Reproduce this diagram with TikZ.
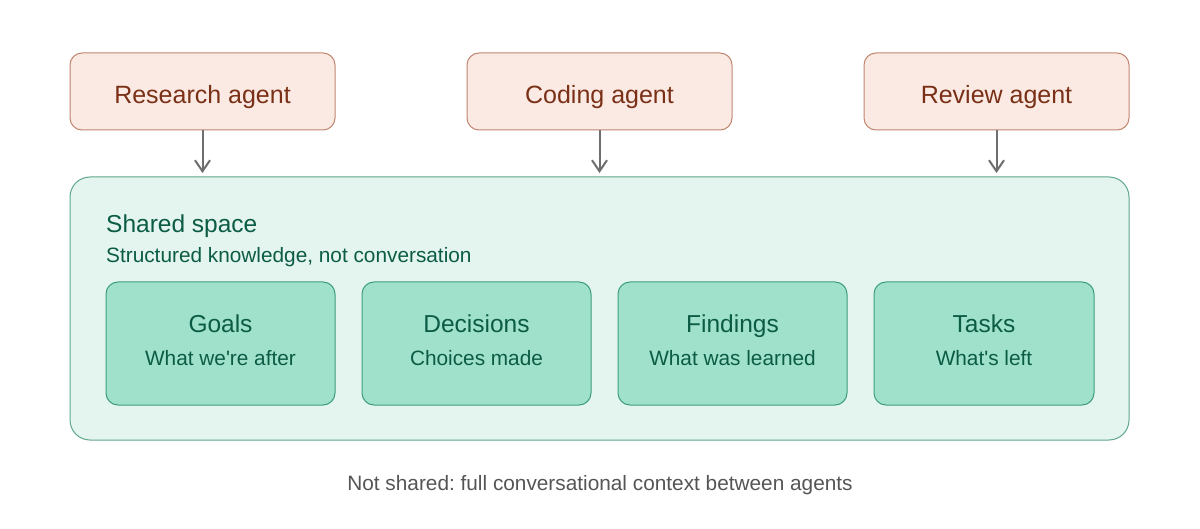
\documentclass[tikz,border=0pt]{standalone}
\usepackage{fontspec}
\setmainfont{Liberation Sans}
\usetikzlibrary{arrows.meta}
\definecolor{agfill}{HTML}{FBEAE3}
\definecolor{agdraw}{HTML}{C08670}
\definecolor{agtext}{HTML}{7A3016}
\definecolor{shfill}{HTML}{E3F5EE}
\definecolor{shdraw}{HTML}{5FA88A}
\definecolor{infill}{HTML}{9FE1CB}
\definecolor{indraw}{HTML}{3E9E7C}
\definecolor{grtext}{HTML}{0C5C45}
\definecolor{arr}{HTML}{6E6E6E}
\definecolor{note}{HTML}{555555}
\tikzset{
  agentbox/.style={draw=agdraw, fill=agfill, rounded corners=12pt, line width=1pt, minimum width=265pt, minimum height=77pt, inner sep=0pt},
  agtxt/.style={text=agtext, font=\fontsize{25}{30}\selectfont, inner sep=0pt},
  sharedbox/.style={draw=shdraw, fill=shfill, rounded corners=20pt, line width=1pt},
  itembox/.style={draw=indraw, fill=infill, rounded corners=12pt, line width=1pt, minimum height=123pt, inner sep=0pt},
  ttl/.style={text=grtext, font=\fontsize{24.5}{29}\selectfont, inner sep=0pt},
  sub/.style={text=grtext, font=\fontsize{20.8}{25}\selectfont, inner sep=0pt},
  flow/.style={draw=arr, line width=2pt, -{Straight Barb[length=11pt,width=15pt,line width=2pt]}},
}
\begin{document}
\frenchspacing
\begin{tikzpicture}[x=1pt,y=-1pt]
\useasboundingbox (0,0) rectangle (1200,529);
\fill[white] (0,0) rectangle (1200,529);
\node[agentbox] (ra) at (202.5,91.5) {};
\node[agentbox] (ca) at (599.5,91.5) {};
\node[agentbox] (va) at (996.5,91.5) {};
\node[agtxt, anchor=base] (rat) at (202.5,104) {Research agent};
\node[agtxt, anchor=base] (cat) at (599.5,104) {Coding agent};
\node[agtxt, anchor=base] (vat) at (996.5,104) {Review agent};
\node[sharedbox, minimum width=1059pt, minimum height=263pt, inner sep=0pt] (sh) at (599.5,308.5) {};
\coordinate (ta) at (202.5,173);
\coordinate (tb) at (599.5,173);
\coordinate (tc) at (996.5,173);
\draw[flow] (ra.south) -- (ta);
\draw[flow] (ca.south) -- (tb);
\draw[flow] (va.south) -- (tc);
\node[ttl, anchor=base west] (st) at (106,233) {Shared space};
\node[sub, anchor=base west] (ss) at (106,263) {Structured knowledge, not conversation};
\node[itembox, minimum width=229pt] (g) at (220.5,343.5) {};
\node[itembox, minimum width=229pt] (d) at (476.5,343.5) {};
\node[itembox, minimum width=229pt] (f) at (732.5,343.5) {};
\node[itembox, minimum width=220pt] (t) at (984,343.5) {};
\node[ttl, anchor=base] (gt) at (220.5,332.5) {Goals};
\node[sub, anchor=base] (gs) at (220.5,365.5) {What we\textquotesingle re after};
\node[ttl, anchor=base] (dt) at (476.5,332.5) {Decisions};
\node[sub, anchor=base] (ds) at (476.5,365.5) {Choices made};
\node[ttl, anchor=base] (ft) at (732.5,332.5) {Findings};
\node[sub, anchor=base] (fs) at (732.5,365.5) {What was learned};
\node[ttl, anchor=base] (tt) at (984,332.5) {Tasks};
\node[sub, anchor=base] (ts) at (984,365.5) {What\textquotesingle s left};
\node[text=note, font=\fontsize{20.8}{25}\selectfont, anchor=base, inner sep=0pt] (nt) at (600,490.5) {Not shared: full conversational context between agents};
\end{tikzpicture}
\end{document}
